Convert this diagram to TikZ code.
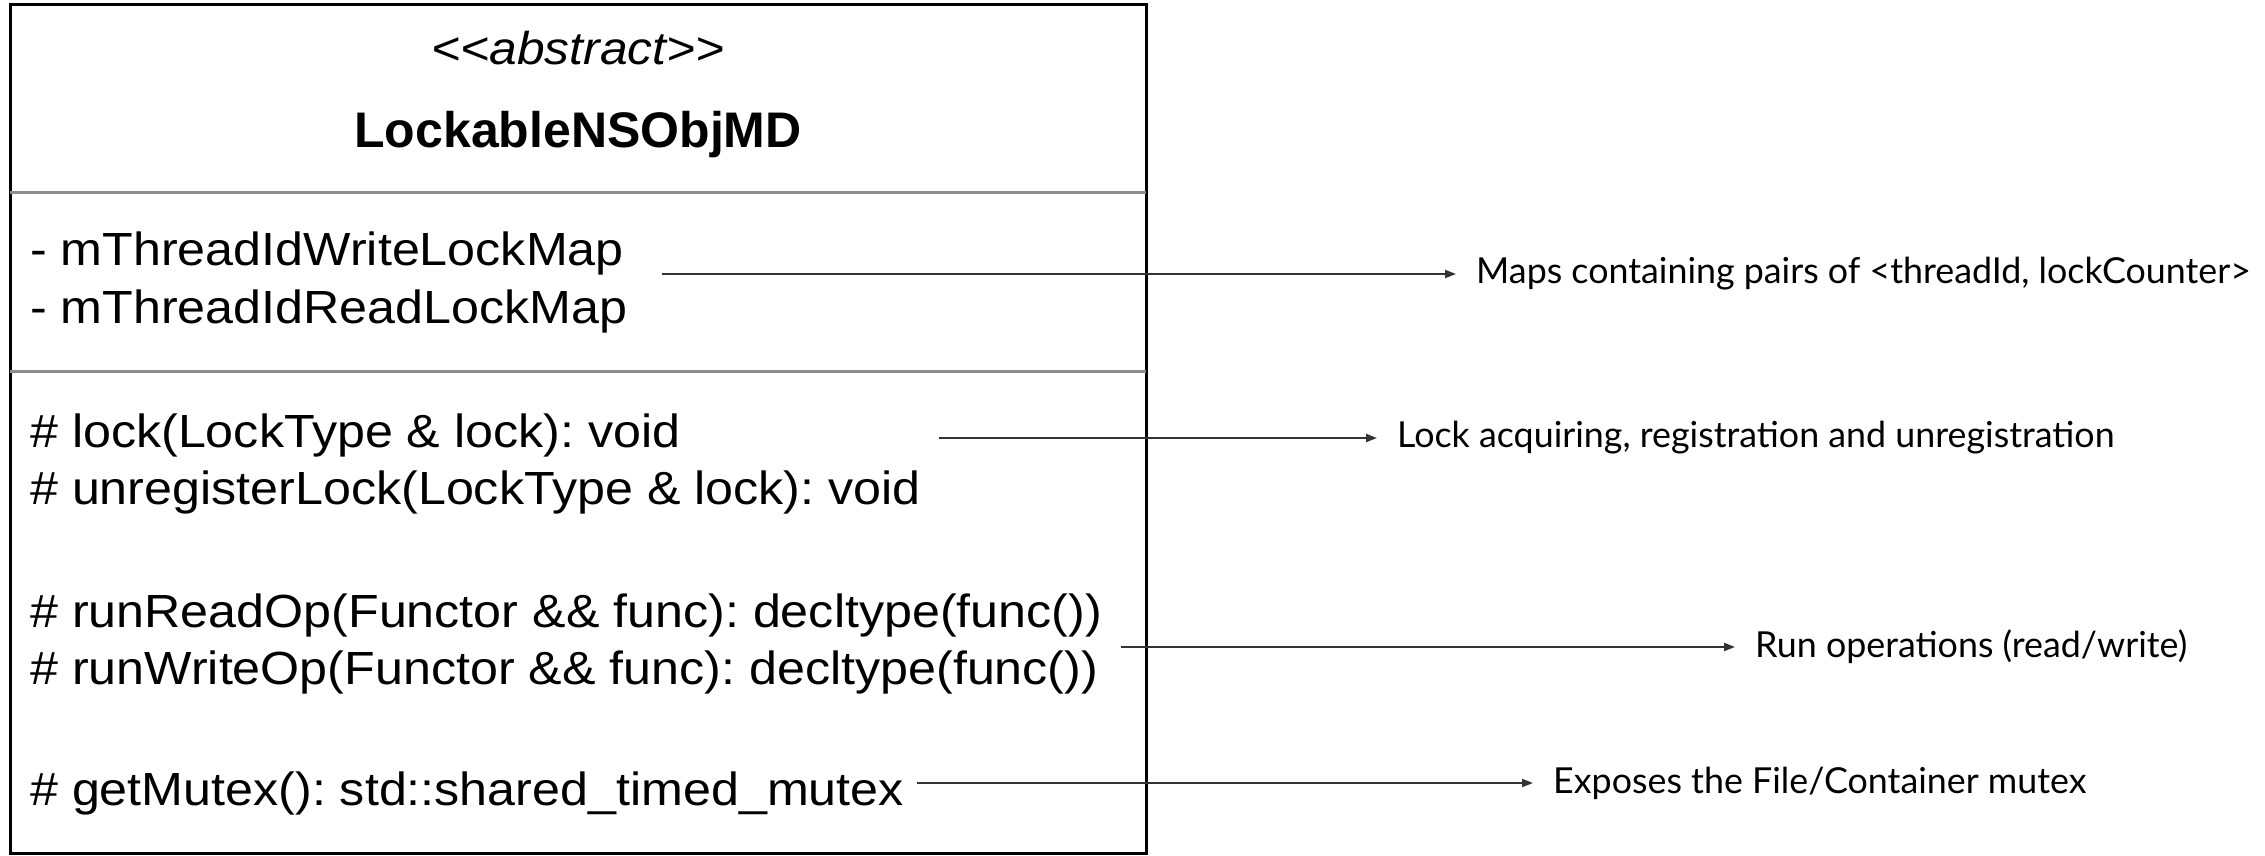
\documentclass[tikz,border=0pt]{standalone}
\usepackage{fontspec}
\setmainfont{Liberation Sans}
\newfontfamily\memberfont{Liberation Sans}[FakeStretch=1.08]
\newfontfamily\notefont{Lato}
\usetikzlibrary{arrows.meta}
\frenchspacing
\begin{document}
\begin{tikzpicture}[x=1pt,y=-1pt,
  member/.style={anchor=base west, inner sep=0pt, font=\memberfont\fontsize{46.5}{56}\selectfont},
  note/.style={anchor=west, inner xsep=20pt, inner ysep=0pt, font=\notefont\fontsize{35.8}{43}\selectfont},
  pointer/.style={draw=black!80, line width=2pt, -{Triangle[length=11pt,width=8pt]}},
  divider/.style={draw=black!45, line width=3pt}]
\useasboundingbox (0,0) rectangle (2265,855);
% class box
\node[draw, line width=3pt, minimum width=1136pt, minimum height=849pt, inner sep=0pt] (cls) at (578,428.5) {};
\draw[divider] (10,192) -- (1146,192);
\draw[divider] (10,371) -- (1146,371);
% header
\node[anchor=base, inner sep=0pt, font=\memberfont\itshape\fontsize{46}{56}\selectfont] (stereo) at (578,64) {<\kern0pt<abstract>\kern0pt>};
\node[anchor=base, inner sep=0pt, font=\bfseries\fontsize{50}{60}\selectfont] (name) at (578,147) {LockableNSObjMD};
% attributes
\node[member] (attW) at (30,265) {- mThreadIdWriteLockMap};
\node[member] (attR) at (30,323) {- mThreadIdReadLockMap};
% operations
\node[member] (opLock) at (30,447) {\# lock(LockType \& lock): void};
\node[member] (opUnreg) at (30,504) {\# unregisterLock(LockType \& lock): void};
\node[member] (opRead) at (30,627) {\# runReadOp(Functor \&\& func): decltype(func())};
\node[member] (opWrite) at (30,684) {\# runWriteOp(Functor \&\& func): decltype(func())};
\node[member] (opMutex) at (30,805) {\# getMutex(): std::shared\_timed\_mutex};
% explanations
\coordinate (s1) at (662,274);
\coordinate (s2) at (939,438);
\coordinate (s3) at (1121,647);
\coordinate (s4) at (917,783);
\node[note] (n1) at (1456,274) {Maps containing pairs of <threadId, lockCounter>};
\node[note] (n2) at (1377,438) {Lock acquiring, registration and unregistration};
\node[note] (n3) at (1735,647) {Run operations (read/write)};
\node[note] (n4) at (1533,783) {Exposes the File/Container mutex};
\draw[pointer] (s1) -- (n1.west);
\draw[pointer] (s2) -- (n2.west);
\draw[pointer] (s3) -- (n3.west);
\draw[pointer] (s4) -- (n4.west);
\end{tikzpicture}
\end{document}
